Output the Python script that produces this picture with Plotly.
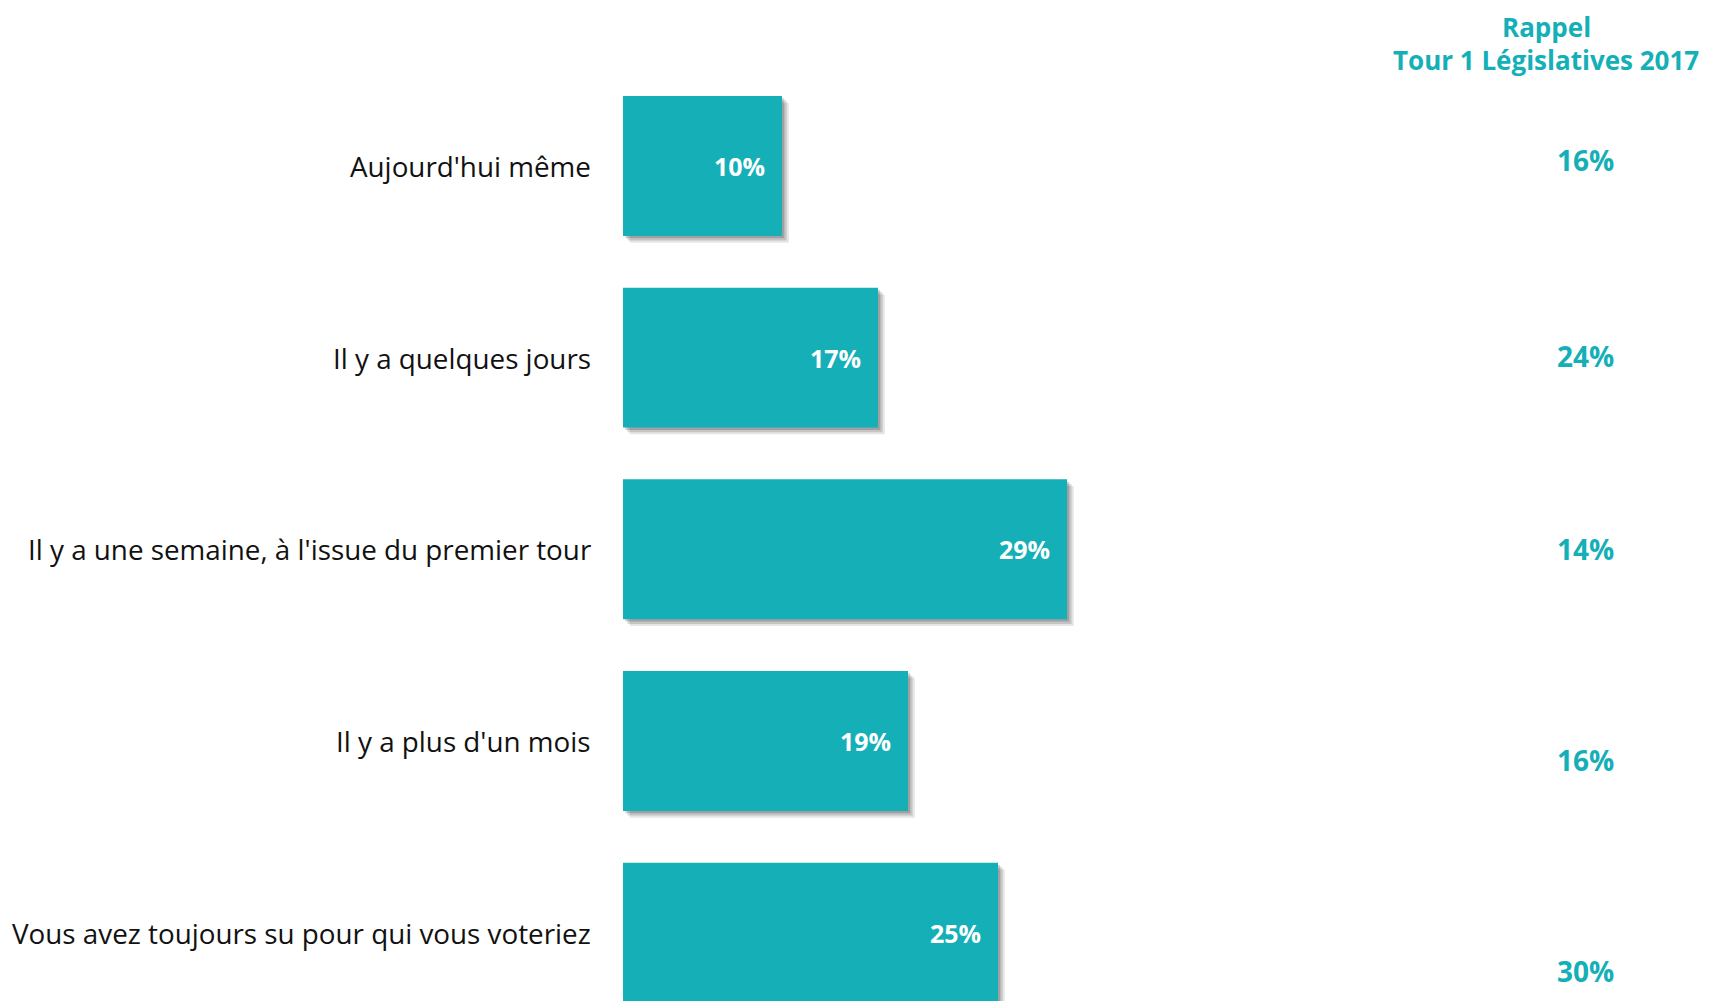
import plotly.graph_objects as go

categories = [
    "Aujourd'hui même",
    "Il y a quelques jours",
    "Il y a une semaine, à l'issue du premier tour",
    "Il y a plus d'un mois",
    "Vous avez toujours su pour qui vous voteriez",
]
values = [10.6, 17.0, 29.6, 19.0, 25.0]
value_labels = ["10%", "17%", "29%", "19%", "25%"]
rappel_labels = ["16%", "24%", "14%", "16%", "30%"]
header_lines = ["Rappel", "Tour 1 Législatives 2017"]

TEAL = "#14AFB7"
FONT = "Open Sans"
rappel_nudge = [-0.03, -0.011, 0.0, 0.098, 0.199]

ypos = list(range(len(categories)))

fig = go.Figure()

# soft drop shadow layers
for dx, dy, a in [(0.45, 0.035, 0.10), (0.3, 0.024, 0.14), (0.15, 0.012, 0.18)]:
    fig.add_trace(go.Bar(
        y=ypos, x=values, base=dx, orientation="h", width=0.73,
        offset=-0.365 + dy, marker=dict(color=f"rgba(0,0,0,{a})", line=dict(width=0)),
        hoverinfo="skip", showlegend=False,
    ))

fig.add_trace(go.Bar(
    y=ypos, x=values, orientation="h", width=0.73, offset=-0.365,
    marker=dict(color=TEAL, line=dict(width=0)), showlegend=False,
))

ann = []
for i, c in enumerate(categories):
    ann.append(dict(x=0.3413, xref="paper", y=i, yref="y", text=c, showarrow=False,
                    xanchor="right", yanchor="middle",
                    font=dict(family=FONT, size=27.8, color="#111111")))
    ann.append(dict(x=values[i], xref="x", y=i, yref="y", text=value_labels[i], showarrow=False,
                    xanchor="right", yanchor="middle", xshift=-15,
                    font=dict(family=FONT, size=25, color="white", weight="bold")))
    ann.append(dict(x=0.920, xref="paper", y=i + rappel_nudge[i], yref="y", text=rappel_labels[i],
                    showarrow=False, xanchor="center", yanchor="middle",
                    font=dict(family=FONT, size=28, color=TEAL, weight="bold")))

ann.append(dict(x=0.897, xref="paper", y=1, yref="paper", text=header_lines[0],
                showarrow=False, xanchor="center", yanchor="top", borderpad=0,
                font=dict(family=FONT, size=26, color=TEAL, weight="bold")))
ann.append(dict(x=0.897, xref="paper", y=1 - 52 / 1001, yref="paper", text=header_lines[1],
                showarrow=False, xanchor="center", yanchor="middle",
                font=dict(family=FONT, size=26, color=TEAL, weight="bold")))

fig.update_layout(
    width=1715, height=1001,
    margin=dict(l=0, r=0, t=0, b=0),
    paper_bgcolor="white", plot_bgcolor="white",
    barmode="overlay",
    xaxis=dict(range=[-41.0, 73.33], visible=False, fixedrange=True),
    yaxis=dict(range=[4.398, -0.824], visible=False, fixedrange=True),
    annotations=ann,
)

fig.write_html("out.html")
